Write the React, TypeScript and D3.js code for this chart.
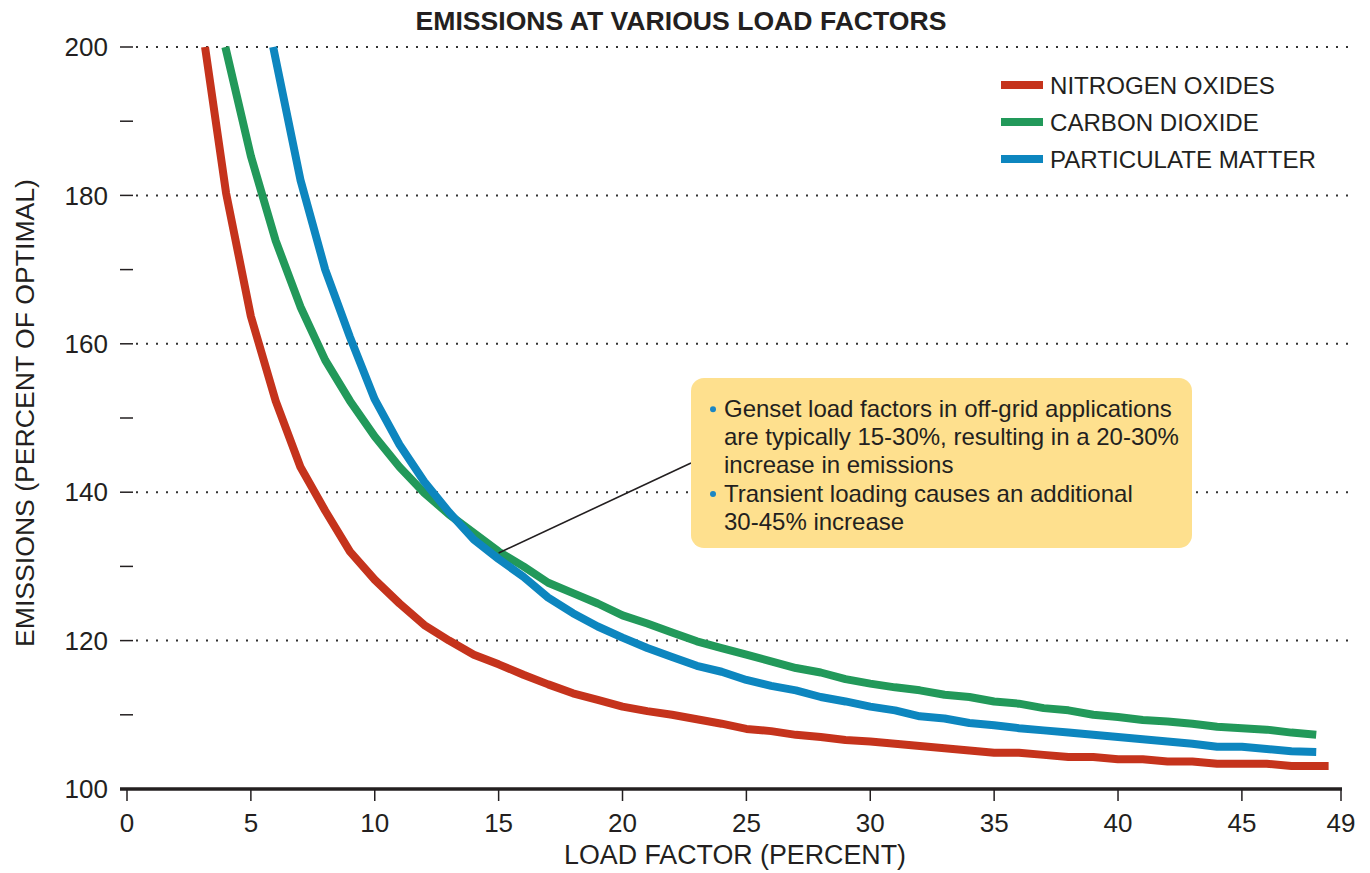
import React from "react";
import * as d3 from "d3";

const noxX = [3.15, 4, 5, 6, 7, 8, 9, 10, 11, 12, 13, 14, 15, 16, 17, 18, 19, 20, 21, 22, 23, 24, 25, 26, 27, 28, 29, 30, 31, 32, 33, 34, 35, 36, 37, 38, 39, 40, 41, 42, 43, 44, 45, 46, 47, 48, 48.5];
const noxY = [200, 180.3, 163.7, 152.3, 143.4, 137.5, 132.0, 128.2, 125.0, 122.1, 120.0, 118.1, 116.8, 115.4, 114.1, 112.9, 112.0, 111.1, 110.5, 110.0, 109.4, 108.8, 108.1, 107.8, 107.3, 107.0, 106.6, 106.4, 106.1, 105.8, 105.5, 105.2, 104.9, 104.9, 104.6, 104.3, 104.3, 104.0, 104.0, 103.7, 103.7, 103.4, 103.4, 103.4, 103.1, 103.1, 103.1];

const co2X = [3.97, 5, 6, 7, 8, 9, 10, 11, 12, 13, 14, 15, 16, 17, 18, 19, 20, 21, 22, 23, 24, 25, 26, 27, 28, 29, 30, 31, 32, 33, 34, 35, 36, 37, 38, 39, 40, 41, 42, 43, 44, 45, 46, 47, 48];
const co2Y = [200, 185.3, 173.9, 165.0, 157.8, 152.3, 147.5, 143.4, 139.9, 137.0, 134.5, 132.0, 130.0, 127.8, 126.4, 125.0, 123.4, 122.3, 121.1, 119.9, 119.0, 118.1, 117.2, 116.3, 115.7, 114.8, 114.2, 113.7, 113.3, 112.7, 112.4, 111.8, 111.5, 110.9, 110.6, 110.0, 109.7, 109.3, 109.1, 108.8, 108.4, 108.2, 108.0, 107.6, 107.3];

const pmX = [5.9, 7, 8, 9, 10, 11, 12, 13, 14, 15, 16, 17, 18, 19, 20, 21, 22, 23, 24, 25, 26, 27, 28, 29, 30, 31, 32, 33, 34, 35, 36, 37, 38, 39, 40, 41, 42, 43, 44, 45, 46, 47, 48];
const pmY = [200, 182.1, 170.0, 160.9, 152.5, 146.4, 141.4, 137.3, 133.6, 131.0, 128.6, 125.8, 123.7, 121.9, 120.4, 119.0, 117.8, 116.6, 115.8, 114.7, 113.9, 113.3, 112.4, 111.8, 111.1, 110.6, 109.8, 109.5, 108.9, 108.6, 108.2, 107.9, 107.6, 107.3, 107.0, 106.7, 106.4, 106.1, 105.7, 105.7, 105.4, 105.1, 105.0];

const seriesNames = ["NITROGEN OXIDES", "CARBON DIOXIDE", "PARTICULATE MATTER"];
const seriesColors = ["#C5331C", "#22995A", "#0D86BF"];

const xTicks = [0, 5, 10, 15, 20, 25, 30, 35, 40, 45, 49];
const yLabelTicks = [100, 120, 140, 160, 180, 200];
const yMinorTicks = [100, 110, 120, 130, 140, 150, 160, 170, 180, 190, 200];
const gridValues = [120, 140, 160, 180, 200];

const noteLines = [
  { bullet: true, text: "Genset load factors in off-grid applications" },
  { bullet: false, text: "are typically 15-30%, resulting in a 20-30%" },
  { bullet: false, text: "increase in emissions" },
  { bullet: true, text: "Transient loading causes an additional" },
  { bullet: false, text: "30-45% increase" },
];

const FONT = "'Liberation Sans', Arial, Helvetica, sans-serif";
const TEXT = "#231F20";

export default function App() {
  const x = d3.scaleLinear().domain([0, 49]).range([127, 1341]);
  const y = d3.scaleLinear().domain([100, 200]).range([789, 47]);
  const line = d3
    .line<[number, number]>()
    .x((d) => x(d[0]))
    .y((d) => y(d[1]));

  const series = [
    noxX.map((v, i) => [v, noxY[i]] as [number, number]),
    co2X.map((v, i) => [v, co2Y[i]] as [number, number]),
    pmX.map((v, i) => [v, pmY[i]] as [number, number]),
  ];

  const noteX = 691;
  const noteY = 378;
  const noteLineH = 28.3;

  return (
    <svg
      width={1370}
      height={873}
      style={{ position: "absolute", left: 0, top: 0, background: "#fff" }}
      fontFamily={FONT}
    >
      <rect x={0} y={0} width={1370} height={873} fill="#fff" />
      {/* title */}
      <text x={681} y={30} textAnchor="middle" fontSize={26.6} fontWeight="bold" fill={TEXT}>
        EMISSIONS AT VARIOUS LOAD FACTORS
      </text>

      {/* gridlines */}
      {gridValues.map((v) => (
        <line
          key={"g" + v}
          x1={136}
          x2={1350}
          y1={y(v)}
          y2={y(v)}
          stroke="#333"
          strokeWidth={2}
          strokeDasharray="2 8"
        />
      ))}

      {/* y ticks */}
      {yMinorTicks.map((v) => (
        <line key={"yt" + v} x1={120} x2={133} y1={y(v)} y2={y(v)} stroke={TEXT} strokeWidth={1.5} />
      ))}
      {yLabelTicks.map((v) => (
        <text
          key={"yl" + v}
          x={108}
          y={y(v)}
          dy="0.35em"
          textAnchor="end"
          fontSize={26}
          fill={TEXT}
        >
          {v}
        </text>
      ))}

      {/* x axis */}
      <line x1={120} x2={1342} y1={789} y2={789} stroke={TEXT} strokeWidth={3.5} />
      {xTicks.map((v) => (
        <g key={"xt" + v}>
          <line x1={x(v)} x2={x(v)} y1={789} y2={801} stroke={TEXT} strokeWidth={1.5} />
          <text x={x(v)} y={832} textAnchor="middle" fontSize={26} fill={TEXT}>
            {v}
          </text>
        </g>
      ))}

      {/* axis titles */}
      <text x={735} y={864} textAnchor="middle" fontSize={26.8} fill={TEXT}>
        LOAD FACTOR (PERCENT)
      </text>
      <text
        transform="translate(34,413) rotate(-90)"
        textAnchor="middle"
        fontSize={26.6}
        fill={TEXT}
      >
        EMISSIONS (PERCENT OF OPTIMAL)
      </text>

      {/* series lines */}
      {series.map((s, i) => (
        <path
          key={"s" + i}
          d={line(s) || ""}
          fill="none"
          stroke={seriesColors[i]}
          strokeWidth={8}
          strokeLinejoin="round"
          strokeLinecap="butt"
        />
      ))}

      {/* callout line */}
      <line x1={x(15)} y1={y(131.8)} x2={noteX} y2={463} stroke={TEXT} strokeWidth={1.6} />

      {/* annotation box */}
      <rect x={noteX} y={noteY} width={501} height={170} rx={13} ry={13} fill="#FEE08E" />
      {noteLines.map((l, i) => (
        <g key={"n" + i}>
          {l.bullet && <circle cx={713} cy={noteY + 38.7 + i * noteLineH - 7.5} r={3} fill="#1B86C4" />}
          <text x={724} y={noteY + 38.7 + i * noteLineH} fontSize={24} fill={TEXT}>
            {l.text}
          </text>
        </g>
      ))}

      {/* legend */}
      {seriesNames.map((n, i) => {
        const cy = 85 + i * 37;
        return (
          <g key={"lg" + i}>
            <line x1={1001} x2={1043} y1={cy} y2={cy} stroke={seriesColors[i]} strokeWidth={8} />
            <text x={1050} y={cy + 9} fontSize={24.1} fill={TEXT}>
              {n}
            </text>
          </g>
        );
      })}
    </svg>
  );
}
